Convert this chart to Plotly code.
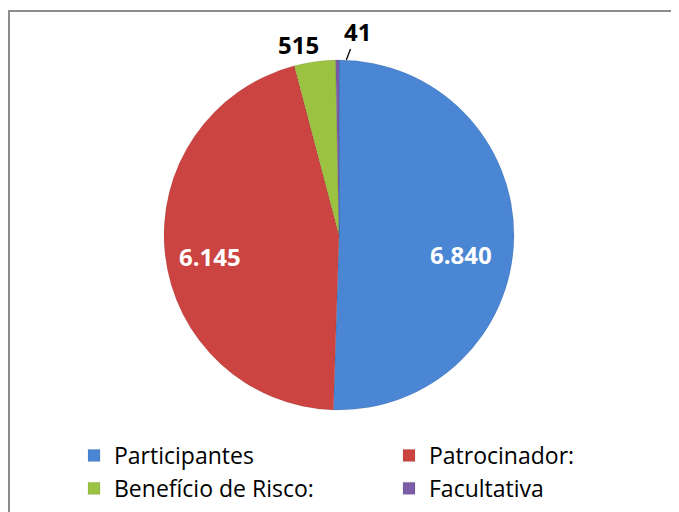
import math
import plotly.graph_objects as go

categories = ["Participantes", "Patrocinador:", "Benefício de Risco:", "Facultativa"]
values = [6840, 6145, 515, 41]
value_labels = ["6.840", "6.145", "515", "41"]
colors = ["#4a86d4", "#cc4441", "#9cc241", "#7b5ea7"]

W, H = 679, 512
# the page body adds an 8px margin, so positions below are in figure pixels
CX, CY, R = 331, 227, 175

# label placement (style): radial factor, extra shifts, text colour
label_r = [0.70, 0.72, 1.10, 1.0]
label_shift = [(0, -18), (-4, -7), (-14, 0), (9, 0)]
label_color = ["white", "white", "black", "black"]

fig = go.Figure(go.Pie(
    labels=categories, values=values, textinfo="none",
    sort=False, direction="clockwise", rotation=0,
    marker=dict(colors=colors, line=dict(color="rgba(0,0,0,0.15)", width=0.6)),
    hoverinfo="label+value",
    domain=dict(x=[(CX - R) / W, (CX + R) / W],
                y=[1 - (CY + R) / H, 1 - (CY - R) / H]),
))

total = sum(values)
cum = 0
for i, v in enumerate(values):
    mid = math.radians((cum + v / 2) / total * 360)
    cum += v
    rr = R * label_r[i]
    fx = CX + rr * math.sin(mid)
    fy = CY - rr * math.cos(mid)
    ann = dict(xref="paper", yref="paper", x=fx / W, y=1 - fy / H,
               text=f"<b>{value_labels[i]}</b>",
               font=dict(family="Open Sans", size=24, color=label_color[i]),
               xshift=label_shift[i][0], yshift=label_shift[i][1],
               xanchor="center", yanchor="middle", showarrow=False)
    if i == 3:
        # tiny slice: leader line up to the label
        ann.update(showarrow=True, arrowhead=0, arrowwidth=1.3, arrowcolor="black",
                   ax=11, ay=-29, xanchor="auto", yanchor="auto")
    fig.add_annotation(**ann)

fig.update_layout(
    width=W, height=H,
    margin=dict(l=0, r=0, t=0, b=0, autoexpand=False),
    paper_bgcolor="white",
    font=dict(family="Open Sans", size=23, color="black"),
    showlegend=True,
    legend=dict(orientation="h", x=66 / W, y=1 - 426 / H, xanchor="left", yanchor="top",
                entrywidth=270, entrywidthmode="pixels", bgcolor="rgba(0,0,0,0)",
                font=dict(size=23)),
    shapes=[dict(type="rect", xref="paper", yref="paper",
                 x0=1 / W, x1=1.05, y0=-0.05, y1=1 - 3 / H,
                 line=dict(color="#8c8c8c", width=2), fillcolor="rgba(0,0,0,0)")],
)

fig.write_html("out.html")
